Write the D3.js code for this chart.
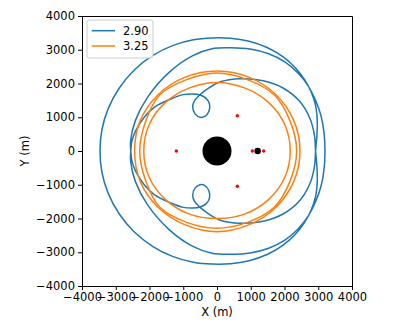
<!DOCTYPE html>
<html>
<head>
<meta charset="utf-8">
<script src="https://cdn.jsdelivr.net/npm/d3@7"></script>
<style>
body { margin: 0; background: #fff; }
text { font-family: "DejaVu Sans", sans-serif; }
</style>
</head>
<body>
<div id="chart"></div>
<script>
var xTicks = [-4000, -3000, -2000, -1000, 0, 1000, 2000, 3000, 4000];
var yTicks = [-4000, -3000, -2000, -1000, 0, 1000, 2000, 3000, 4000];
var seriesNames = ["2.90", "3.25"];

// C = 2.90 trajectory (one closed pass)
var orbitBlue = [
    [3200, 0], [3170, 550], [3080, 1050], [2920, 1500], [2700, 1930], [2400, 2310], [2010, 2640],
    [1530, 2880], [980, 3020], [420, 3060], [-150, 3030], [-730, 2820], [-1420, 2330], [-2060, 1590],
    [-2420, 900], [-2560, 300], [-2555, 0],
    [-2520, -300], [-2400, -620], [-2150, -1010], [-1850, -1300], [-1370, -1540], [-1000, -1670],
    [-720, -1690], [-500, -1660], [-320, -1560], [-220, -1380], [-240, -1180], [-350, -1030],
    [-500, -1000], [-650, -1100], [-720, -1310], [-660, -1500], [-500, -1670], [-250, -1860],
    [100, -2050], [680, -2140], [1370, -2080], [1970, -1860], [2460, -1460], [2760, -950], [2890, -450],
    [2920, 0],
    [2960, 450], [2970, 900], [2920, 1350], [2790, 1750], [2590, 2120], [2320, 2470], [1960, 2790],
    [1500, 3060], [950, 3250], [400, 3340], [-150, 3350], [-700, 3295], [-1300, 3130], [-1900, 2830],
    [-2450, 2400], [-2900, 1860], [-3230, 1240], [-3410, 630], [-3467, 0],
    [-3410, -630], [-3230, -1240], [-2900, -1860], [-2450, -2400], [-1900, -2830], [-1300, -3130],
    [-700, -3295], [-150, -3350], [400, -3340], [950, -3250], [1500, -3060], [1960, -2790],
    [2320, -2470], [2590, -2120], [2790, -1750], [2920, -1350], [2970, -900], [2960, -450], [2920, 0],
    [2890, 450], [2760, 950], [2460, 1460], [1970, 1860], [1370, 2080], [680, 2140], [100, 2050],
    [-250, 1860], [-500, 1670], [-660, 1500], [-720, 1310], [-650, 1100], [-500, 1000], [-350, 1030],
    [-240, 1180], [-220, 1380], [-320, 1560], [-500, 1660], [-720, 1690], [-1000, 1670], [-1370, 1540],
    [-1850, 1300], [-2150, 1010], [-2400, 620], [-2520, 300], [-2555, 0],
    [-2560, -300], [-2420, -900], [-2060, -1590], [-1420, -2330], [-730, -2820], [-150, -3030],
    [420, -3060], [980, -3020], [1530, -2880], [2010, -2640], [2400, -2310], [2700, -1930],
    [2920, -1500], [3080, -1050], [3170, -550]
];

// C = 3.25 trajectory, three laps
var orangeOuter = [
    [2460, 0], [2273, 908], [1739, 1676], [942, 2190], [0, 2370], [-942, 2190], [-1739, 1676], [-2273, 908],
    [-2440, 0], [-2273, -908], [-1739, -1676], [-942, -2190], [0, -2390], [942, -2190], [1739, -1676], [2273, -908]
];
var orangeMiddle = [
    [2360, 0], [2171, 877], [1700, 1660], [899, 2116], [0, 2310], [-899, 2116], [-1700, 1660], [-2115, 877],
    [-2290, 0], [-2115, -877], [-1700, -1660], [-899, -2116], [0, -2290], [899, -2116], [1700, -1660], [2171, -877]
];
var orangeInner = [
    [2170, 0], [2014, 772], [1541, 1425], [834, 1862], [0, 2030], [-834, 1862], [-1541, 1425], [-2014, 772],
    [-2170, 0], [-2014, -772], [-1541, -1425], [-834, -1862], [0, -2000], [834, -1862], [1541, -1425], [2014, -772]
];

var lagrangeX = [1047, 1383, -1205, 602, 602];
var lagrangeY = [0, 0, 0, 1046, -1046];
var bodyX = [0, 1205];
var bodyY = [0, 0];

var margin = { top: 16, right: 43, bottom: 43, left: 82 },
    width = 270,
    height = 270;

var xscale = d3.scaleLinear().domain([-4000, 4000]).range([0, width]);
var yscale = d3.scaleLinear().domain([-4000, 4000]).range([height, 0]);

var line = d3.line()
    .x(function (d) { return xscale(d[0]); })
    .y(function (d) { return yscale(d[1]); })
    .curve(d3.curveCatmullRomClosed.alpha(0.5));

var svg = d3.select("#chart").append("svg")
    .attr("width", 395)
    .attr("height", 329)
    .append("g")
    .attr("transform", "translate(" + margin.left + "," + margin.top + ")");

svg.append("clipPath").attr("id", "clip")
    .append("rect").attr("width", width).attr("height", height);

var plot = svg.append("g").attr("clip-path", "url(#clip)");

plot.append("path")
    .datum(orbitBlue)
    .attr("d", line)
    .attr("fill", "none")
    .attr("stroke", "#1f77b4")
    .attr("stroke-width", 1.5);

[orangeOuter, orangeMiddle, orangeInner].forEach(function (ring) {
    plot.append("path")
        .datum(ring)
        .attr("d", line)
        .attr("fill", "none")
        .attr("stroke", "#ff7f0e")
        .attr("stroke-width", 1.5);
});

// earth and moon
plot.selectAll(".body")
    .data(bodyX)
    .enter().append("circle")
    .attr("class", "body")
    .attr("cx", function (d) { return xscale(d); })
    .attr("cy", function (d, i) { return yscale(bodyY[i]); })
    .attr("r", function (d, i) { return i == 0 ? 14.5 : 3.2; })
    .attr("fill", "#000");

// lagrange points
plot.selectAll(".lp")
    .data(lagrangeX)
    .enter().append("circle")
    .attr("class", "lp")
    .attr("cx", function (d) { return xscale(d); })
    .attr("cy", function (d, i) { return yscale(lagrangeY[i]); })
    .attr("r", 1.7)
    .attr("fill", "red");

// axes
svg.append("g")
    .attr("transform", "translate(0," + height + ")")
    .call(d3.axisBottom(xscale).tickValues(xTicks).tickFormat(d3.format("d")).tickSize(4).tickPadding(3));
svg.append("g")
    .call(d3.axisLeft(yscale).tickValues(yTicks).tickFormat(d3.format("d")).tickSize(4).tickPadding(3));
svg.append("g")
    .attr("transform", "translate(" + width + ",0)")
    .call(d3.axisRight(yscale).tickValues([]).tickSizeOuter(0));
svg.append("g")
    .call(d3.axisTop(xscale).tickValues([]).tickSizeOuter(0));

svg.selectAll(".tick text")
    .style("font-family", "DejaVu Sans")
    .style("font-size", "11.5px")
    .attr("fill", "#000");
svg.selectAll(".domain").attr("stroke", "#000");

svg.append("text")
    .attr("x", width / 2)
    .attr("y", 300)
    .attr("text-anchor", "middle")
    .style("font-size", "11.5px")
    .text("X (m)");

svg.append("text")
    .attr("text-anchor", "middle")
    .attr("transform", "translate(-53," + (height / 2) + ")rotate(-90)")
    .style("font-size", "11.5px")
    .text("Y (m)");

// legend
var legend = svg.append("g").attr("transform", "translate(5,4)");
legend.append("rect")
    .attr("width", 66)
    .attr("height", 38)
    .attr("rx", 2.5)
    .attr("fill", "#fff")
    .attr("fill-opacity", 0.8)
    .attr("stroke", "#cccccc")
    .attr("stroke-width", 1);
seriesNames.forEach(function (name, i) {
    var y = 10.7 + i * 15.3;
    legend.append("line")
        .attr("x1", 4.7).attr("x2", 28)
        .attr("y1", y).attr("y2", y)
        .attr("stroke", i == 0 ? "#1f77b4" : "#ff7f0e")
        .attr("stroke-width", 1.5);
    legend.append("text")
        .attr("x", 36)
        .attr("y", y + 4)
        .style("font-size", "11.5px")
        .text(name);
});
</script>
</body>
</html>
